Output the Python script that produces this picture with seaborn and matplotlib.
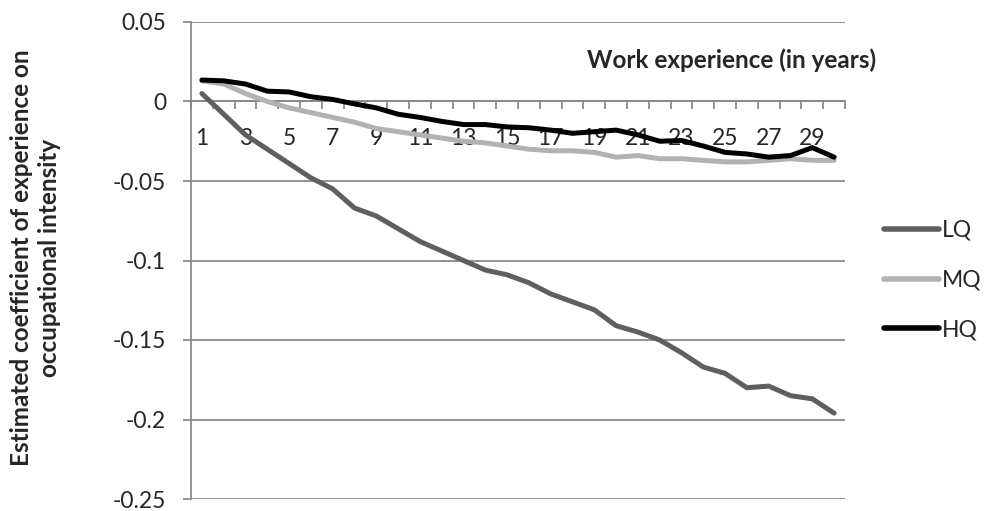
import numpy as np
import pandas as pd
import matplotlib
matplotlib.use("Agg")
import matplotlib.pyplot as plt
import seaborn as sns
from matplotlib.ticker import FixedLocator

# Data
years = list(range(1, 31))
lq = [0.005, -0.008, -0.021, -0.030, -0.039, -0.048, -0.055, -0.067, -0.072, -0.080,
      -0.088, -0.094, -0.100, -0.106, -0.109, -0.114, -0.121, -0.126, -0.131, -0.141,
      -0.145, -0.150, -0.158, -0.167, -0.171, -0.180, -0.179, -0.185, -0.187, -0.196]
mq = [0.013, 0.011, 0.005, 0.000, -0.004, -0.007, -0.010, -0.013, -0.017, -0.019,
      -0.021, -0.023, -0.025, -0.026, -0.028, -0.030, -0.031, -0.031, -0.032, -0.035,
      -0.034, -0.036, -0.036, -0.037, -0.038, -0.038, -0.037, -0.036, -0.037, -0.037]
hq = [0.0135, 0.013, 0.011, 0.0065, 0.006, 0.003, 0.0013, -0.0015, -0.004, -0.008,
      -0.010, -0.0125, -0.0145, -0.0145, -0.016, -0.0165, -0.018, -0.020, -0.019, -0.018,
      -0.021, -0.025, -0.0245, -0.028, -0.032, -0.033, -0.035, -0.034, -0.029, -0.035]
groups = ["LQ", "MQ", "HQ"]
colors = {"LQ": "#5f5f5f", "MQ": "#b2b2b2", "HQ": "#000000"}
yticks = [-0.25, -0.2, -0.15, -0.1, -0.05, 0, 0.05]
ytick_labels = ["-0.25", "-0.2", "-0.15", "-0.1", "-0.05", "0", "0.05"]

df = pd.DataFrame({
    "year": years * 3,
    "coef": lq + mq + hq,
    "group": ["LQ"] * 30 + ["MQ"] * 30 + ["HQ"] * 30,
})

sns.set_style("white")
plt.rcParams["font.family"] = ["Lato", "DejaVu Sans"]

fig = plt.figure(figsize=(9.88, 5.11), dpi=100)
ax = fig.add_axes([191 / 988, 1 - 499 / 511, 654 / 988, 477 / 511])

sns.lineplot(data=df, x="year", y="coef", hue="group", hue_order=groups,
             palette=colors, linewidth=3.6, ax=ax, zorder=3)

grid_c = "#8a8a8a"
ax.set_xlim(0.5, 30.5)
ax.set_ylim(-0.25, 0.05)
ax.set_yticks(yticks)
ax.set_yticklabels(ytick_labels)
ax.grid(axis="y", color=grid_c, linewidth=1.3, zorder=0)
ax.grid(axis="x", visible=False)

for s in ["top", "right"]:
    ax.spines[s].set_visible(False)
ax.spines["left"].set_color(grid_c)
ax.spines["left"].set_linewidth(1.3)
ax.spines["bottom"].set_position(("data", 0))
ax.spines["bottom"].set_color(grid_c)
ax.spines["bottom"].set_linewidth(1.3)

# odd years labelled, tick marks between categories like Excel
ax.set_xticks(years[::2])
ax.set_xticklabels([str(y) for y in years[::2]])
ax.xaxis.set_minor_locator(FixedLocator(np.arange(0.5, 31, 1)))
ax.tick_params(axis="x", which="major", length=0, pad=19, labelsize=16.5)
ax.tick_params(axis="x", which="minor", length=6, width=1.3, color=grid_c,
               direction="out", bottom=True)
ax.tick_params(axis="y", which="major", length=6, width=1.3, color=grid_c,
               direction="out", left=True, pad=12, labelsize=16.5)

ax.set_xlabel("Work experience (in years)", fontsize=17.5, fontweight="bold")
ax.xaxis.set_label_coords(0.827, 0.945)
ax.set_ylabel("Estimated coefficient of experience on\noccupational intensity",
              fontsize=17.5, fontweight="bold", linespacing=1.25)
ax.yaxis.set_label_coords(-0.199, 0.505)

leg = ax.legend(loc="center left", bbox_to_anchor=(1.045, 0.459), frameon=False,
                fontsize=16.5, handlelength=2.4, handletextpad=0.15, labelspacing=1.25,
                borderaxespad=0)
for line in leg.get_lines():
    line.set_linewidth(4)
    line.set_solid_capstyle("round")

fig.savefig("out.png", dpi=100)
